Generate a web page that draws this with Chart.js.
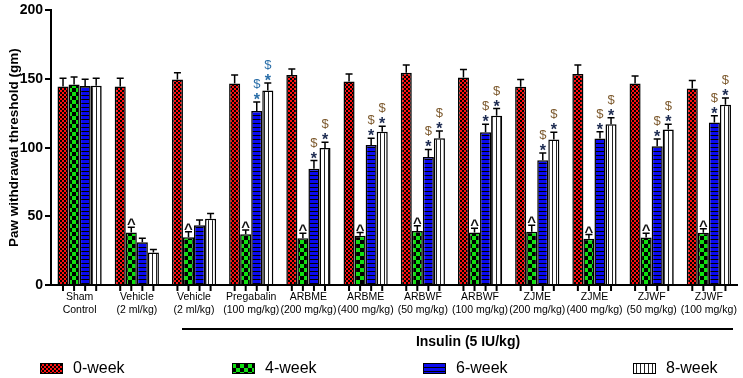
<!DOCTYPE html>
<html>
<head>
<meta charset="utf-8">
<script src="https://cdn.jsdelivr.net/npm/chart.js@4/dist/chart.umd.min.js"></script>
<style>
html,body{margin:0;padding:0;background:#fff;}
canvas{display:block;}
</style>
</head>
<body>
<canvas id="c" width="743" height="378"></canvas>
<script>
const categories = [["Sham","Control"],["Vehicle","(2 ml/kg)"],["Vehicle","(2 ml/kg)"],["Pregabalin","(100 mg/kg)"],["ARBME","(200 mg/kg)"],["ARBME","(400 mg/kg)"],["ARBWF","(50 mg/kg)"],["ARBWF","(100 mg/kg)"],["ZJME","(200 mg/kg)"],["ZJME","(400 mg/kg)"],["ZJWF","(50 mg/kg)"],["ZJWF","(100 mg/kg)"]];
const seriesNames = ["0-week","4-week","6-week","8-week"];
const week0 = [144.6,144.6,149.7,146.8,153.0,148.2,154.5,151.1,144.4,153.7,146.8,143.2];
const week4 = [146.0,38.2,34.8,37.0,34.1,35.8,39.4,38.2,38.7,33.6,34.6,38.0];
const week6 = [145.0,31.2,43.5,126.8,84.6,101.9,93.2,111.2,90.8,106.7,101.1,118.4];
const week8 = [145.1,23.6,48.3,141.7,99.7,111.7,106.9,123.2,105.9,117.0,113.2,131.2];
const err0 = [6.0,6.0,4.8,6.2,4.3,5.5,5.8,5.8,5.3,6.5,5.5,5.8];
const err4 = [5.5,3.8,4.0,3.1,3.6,2.4,3.8,3.1,4.8,3.1,3.1,2.9];
const err6 = [4.8,2.9,3.8,6.5,6.0,5.0,5.5,5.8,5.3,5.0,5.3,4.8];
const err8 = [5.5,2.2,3.8,5.5,4.3,4.0,5.3,5.3,5.3,4.8,3.8,5.0];
const mark4 = ["","^","^","^","^","^","^","^","^","^","^","^"];
const mark6 = ["","","","$*","$*","$*","$*","$*","$*","$*","$*","$*"];
const mark8 = ["","","","$*","$*","$*","$*","$*","$*","$*","$*","$*"];
const yTicks = [0,50,100,150,200];
const groupLabel = "Insulin (5 IU/kg)";
const yTitle = "Paw withdrawal threshold (gm)";

const FONT = "'Liberation Sans', Arial, sans-serif";

function pat(w,h,draw){
  const c=document.createElement('canvas');c.width=w;c.height=h;
  const x=c.getContext('2d');draw(x);
  return x.createPattern(c,'repeat');
}
const pRed = pat(4,4,x=>{x.fillStyle='#ff1010';x.fillRect(0,0,4,4);x.fillStyle='#000';x.fillRect(0,0,2,2);x.fillRect(2,2,2,2);});
const pGreen = pat(8,8,x=>{x.fillStyle='#10e010';x.fillRect(0,0,8,8);x.fillStyle='#000';x.fillRect(0,0,4,4);x.fillRect(4,4,4,4);});
const pBlue = pat(4,4,x=>{x.fillStyle='#0a0af0';x.fillRect(0,0,4,4);x.fillStyle='#000';x.fillRect(0,3,4,1);});
const pWhite = pat(4,4,x=>{x.fillStyle='#fff';x.fillRect(0,0,4,4);x.fillStyle='#222';x.fillRect(0,0,1,4);});
const patterns = [pRed,pGreen,pBlue,pWhite];
const errs = [err0,err4,err6,err8];
const marks = [null,mark4,mark6,mark8];

const decor = {
  id:'decor',
  beforeDraw(chart){
    const ctx=chart.ctx;ctx.save();ctx.fillStyle='#fff';ctx.fillRect(0,0,chart.width,chart.height);ctx.restore();
  },
  afterDatasetsDraw(chart){
    const ctx=chart.ctx, ys=chart.scales.y, ca=chart.chartArea;
    ctx.save();
    chart.data.datasets.forEach((ds,i)=>{
      const meta=chart.getDatasetMeta(i);
      meta.data.forEach((bar,j)=>{
        const v=ds.data[j], e=errs[i][j];
        const yTop=bar.y, yE=ys.getPixelForValue(v+e);
        ctx.strokeStyle='#000';ctx.lineWidth=1.5;
        ctx.beginPath();ctx.moveTo(bar.x,yTop);ctx.lineTo(bar.x,yE);
        ctx.moveTo(bar.x-3.5,yE);ctx.lineTo(bar.x+3.5,yE);ctx.stroke();
        ctx.lineWidth=2;
        ctx.beginPath();ctx.moveTo(bar.x,ca.bottom);ctx.lineTo(bar.x,ca.bottom+6);ctx.stroke();
        const m = marks[i] ? marks[i][j] : "";
        ctx.textAlign='center';ctx.textBaseline='alphabetic';
        if(m==="^"){
          ctx.font="bold 15px "+FONT;ctx.fillStyle='#111';
          ctx.fillText("^",bar.x,yE+2);
        } else if(m==="$*"){
          const blueish = (j===3);
          ctx.font="bold 16px "+FONT;
          ctx.fillStyle= blueish ? '#2a6ea8' : '#1c2a50';
          ctx.fillText("*",bar.x,yE+3);
          ctx.font="13px "+FONT;
          ctx.fillStyle= blueish ? '#2a6ea8' : '#7d5a2e';
          ctx.fillText("$",bar.x,yE-14);
        }
      });
    });
    ctx.restore();
  },
  afterDraw(chart){
    const ctx=chart.ctx;
    ctx.save();
    ctx.strokeStyle='#000';ctx.lineWidth=2;
    ctx.beginPath();ctx.moveTo(182,329);ctx.lineTo(733,329);ctx.stroke();
    ctx.fillStyle='#000';ctx.font="bold 14px "+FONT;ctx.textAlign='center';ctx.textBaseline='middle';
    ctx.fillText(groupLabel,468,342);
    const lx=[40,232,423,633];
    seriesNames.forEach((n,i)=>{
      ctx.fillStyle=patterns[i];
      ctx.fillRect(lx[i],363,22,10);
      ctx.strokeStyle='#000';ctx.lineWidth=1;
      ctx.strokeRect(lx[i]+0.5,363.5,22,10);
      ctx.fillStyle='#000';ctx.font="16px "+FONT;ctx.textAlign='left';ctx.textBaseline='middle';
      ctx.fillText(n,lx[i]+33,368.5);
    });
    ctx.restore();
  }
};

new Chart(document.getElementById('c'),{
  type:'bar',
  data:{
    labels:categories,
    datasets:[week0,week4,week6,week8].map((d,i)=>({
      label:seriesNames[i],
      data:d,
      backgroundColor:patterns[i],
      borderColor:'#000',
      borderWidth:1.5,
      categoryPercentage:0.773,
      barPercentage:1.0
    }))
  },
  options:{
    responsive:false,
    animation:false,
    devicePixelRatio:1,
    layout:{padding:{left:0,right:3,top:8,bottom:53}},
    plugins:{legend:{display:false},tooltip:{enabled:false}},
    scales:{
      x:{
        grid:{display:false,drawTicks:false},
        border:{display:true,color:'#000',width:2},
        ticks:{color:'#000',font:{family:FONT,size:10.5},padding:6,maxRotation:0,autoSkip:false},
        afterFit(s){s.height=40;}
      },
      y:{
        min:0,max:200,
        afterBuildTicks(s){s.ticks=yTicks.map(v=>({value:v}));},
        grid:{drawOnChartArea:false,drawTicks:true,tickLength:6,color:'#000',lineWidth:2},
        border:{display:true,color:'#000',width:2},
        ticks:{color:'#000',font:{family:FONT,size:14,weight:'bold'},padding:2},
        title:{display:true,text:yTitle,color:'#000',font:{family:FONT,size:13.5,weight:'bold'},padding:{top:6,bottom:0}},
        afterFit(s){s.width=51;}
      }
    }
  },
  plugins:[decor]
});
</script>
</body>
</html>
